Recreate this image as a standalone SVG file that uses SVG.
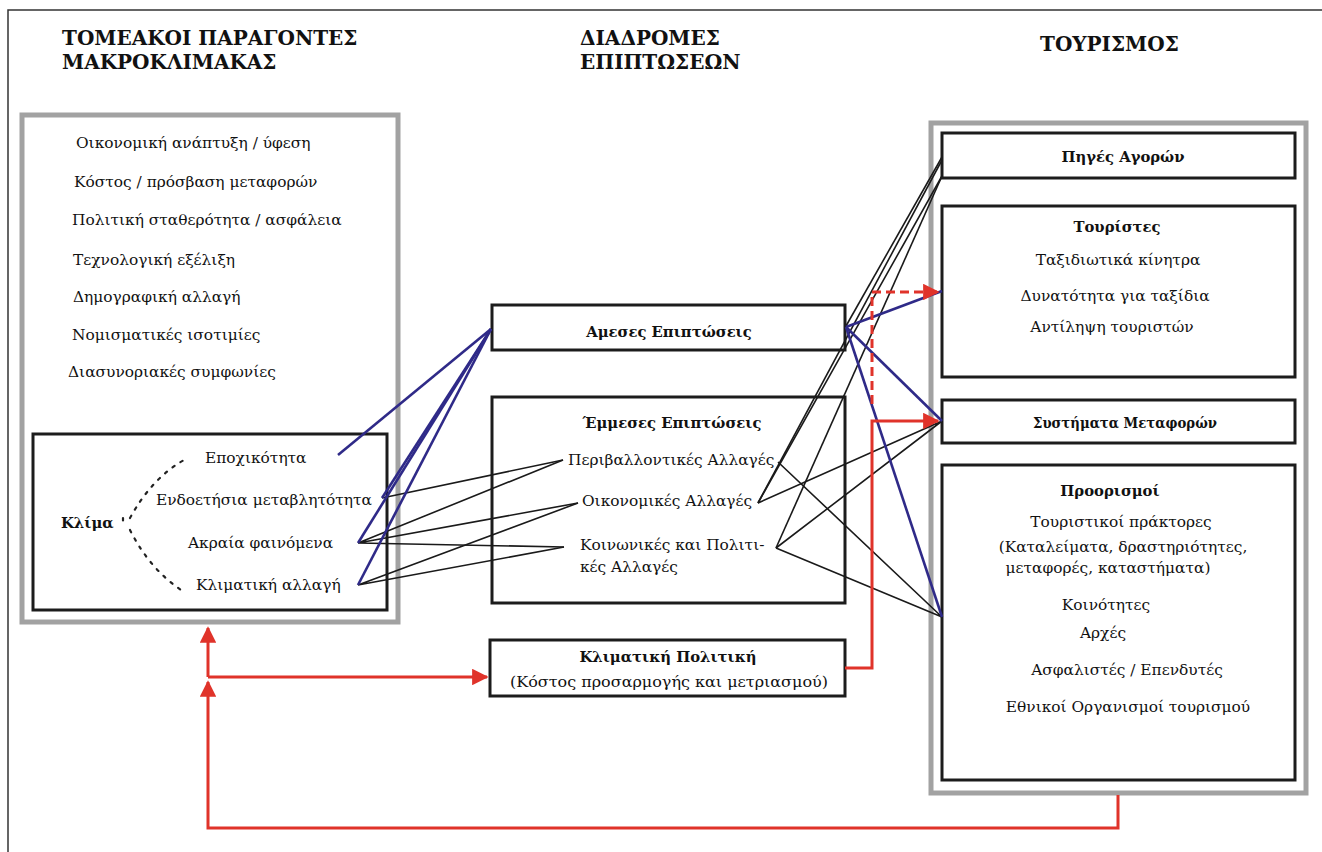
<svg xmlns="http://www.w3.org/2000/svg" width="1322" height="852" viewBox="0 0 1322 852">
  <style>
    text { font-family: "DejaVu Serif", serif; fill: #111; }
    .title { font-size: 20px; font-weight: bold; }
    .item { font-size: 15.4px; }
    .head { font-size: 14.8px; font-weight: bold; }
    .mid { text-anchor: middle; }
    .outer { fill: none; stroke: #a2a2a2; stroke-width: 5; }
    .box { fill: #fff; stroke: #1c1c1c; stroke-width: 3; }
    .blk { stroke: #1a1a1a; stroke-width: 1.6; fill: none; }
    .blu { stroke: #2f2a88; stroke-width: 2.6; fill: none; }
    .red { stroke: #e0332a; stroke-width: 3; fill: none; }
    .dash { stroke-dasharray: 9 5; }
    .dots { stroke: #222; stroke-width: 2.2; fill: none; stroke-dasharray: 2.5 7; stroke-linecap: round; }
  </style>
  <defs>
    <marker id="arr" viewBox="0 0 10 10" refX="9" refY="5" markerWidth="6.5" markerHeight="5.5" markerUnits="strokeWidth" orient="auto">
      <path d="M0,0 L10,5 L0,10 Z" fill="#e0332a"/>
    </marker>
  </defs>

  <rect width="1322" height="852" fill="#fff"/>
  <!-- page frame -->
  <path d="M8,852 V10 H1322" fill="none" stroke="#333" stroke-width="1.5"/>

  <!-- column titles -->
  <g id="titles">
    <text class="title" x="62" y="45">ΤΟΜΕΑΚΟΙ ΠΑΡΑΓΟΝΤΕΣ</text>
    <text class="title" x="62" y="69">ΜΑΚΡΟΚΛΙΜΑΚΑΣ</text>
    <text class="title" x="580" y="45">ΔΙΑΔΡΟΜΕΣ</text>
    <text class="title" x="580" y="69">ΕΠΙΠΤΩΣΕΩΝ</text>
    <text class="title" x="1040" y="51">ΤΟΥΡΙΣΜΟΣ</text>
  </g>

  <!-- macro-scale factors -->
  <g id="macro">
    <rect class="outer" x="22" y="115" width="376" height="507"/>
    <text class="item" x="76" y="148">Οικονομική ανάπτυξη / ύφεση</text>
    <text class="item" x="74" y="187">Κόστος / πρόσβαση μεταφορών</text>
    <text class="item" x="72" y="225">Πολιτική σταθερότητα / ασφάλεια</text>
    <text class="item" x="73" y="265">Τεχνολογική εξέλιξη</text>
    <text class="item" x="73" y="302">Δημογραφική αλλαγή</text>
    <text class="item" x="72" y="340">Νομισματικές ισοτιμίες</text>
    <text class="item" x="68" y="377">Διασυνοριακές συμφωνίες</text>
  </g>

  <!-- climate -->
  <g id="klima">
    <rect class="box" x="33" y="434" width="354" height="176"/>
    <text class="head" x="61" y="528">Κλίμα</text>
    <path class="dots" d="M123,518 L123,527"/>
    <path class="dots" d="M130,518 Q152,478 184,460"/>
    <path class="dots" d="M130,530 Q150,570 184,592"/>
    <text class="item" x="205" y="463">Εποχικότητα</text>
    <text class="item" x="156" y="505">Ενδοετήσια μεταβλητότητα</text>
    <text class="item" x="188" y="548">Ακραία φαινόμενα</text>
    <text class="item" x="196" y="590">Κλιματική αλλαγή</text>
  </g>

  <!-- impact pathways -->
  <g id="amesa">
    <rect class="box" x="492" y="305" width="353" height="45"/>
    <text class="head mid" x="669" y="337">Αμεσες Επιπτώσεις</text>
  </g>
  <g id="emmesa">
    <rect class="box" x="492" y="397" width="353" height="206"/>
    <text class="head mid" x="672" y="428">Έμμεσες Επιπτώσεις</text>
    <text class="item" x="568" y="465">Περιβαλλοντικές Αλλαγές</text>
    <text class="item" x="582" y="506">Οικονομικές Αλλαγές</text>
    <text class="item" x="580" y="550">Κοινωνικές και Πολιτι-</text>
    <text class="item" x="580" y="572">κές Αλλαγές</text>
  </g>
  <g id="politiki">
    <rect class="box" x="490" y="640" width="355" height="56"/>
    <text class="head mid" x="668" y="662">Κλιματική Πολιτική</text>
    <text class="item mid" x="669" y="687" textLength="318" lengthAdjust="spacingAndGlyphs">(Κόστος προσαρμογής και μετριασμού)</text>
  </g>

  <!-- tourism -->
  <g id="tourism">
    <rect class="outer" x="931" y="123" width="375" height="670"/>
  </g>
  <g id="piges">
    <rect class="box" x="942" y="133" width="353" height="45"/>
    <text class="head mid" x="1123" y="162">Πηγές Αγορών</text>
  </g>
  <g id="touristes">
    <rect class="box" x="942" y="206" width="353" height="171"/>
    <text class="head mid" x="1117" y="232">Τουρίστες</text>
    <text class="item mid" x="1118" y="265">Ταξιδιωτικά κίνητρα</text>
    <text class="item mid" x="1115" y="301">Δυνατότητα για ταξίδια</text>
    <text class="item mid" x="1112" y="332">Αντίληψη τουριστών</text>
  </g>
  <g id="metafores">
    <rect class="box" x="942" y="400" width="353" height="43"/>
    <text class="head mid" x="1125" y="428" textLength="184" lengthAdjust="spacingAndGlyphs">Συστήματα Μεταφορών</text>
  </g>
  <g id="proorismoi">
    <rect class="box" x="942" y="465" width="353" height="315"/>
    <text class="head mid" x="1110" y="496">Προορισμοί</text>
    <text class="item mid" x="1121" y="527">Τουριστικοί πράκτορες</text>
    <text class="item mid" x="1123" y="552">(Καταλείματα, δραστηριότητες,</text>
    <text class="item mid" x="1108" y="573">μεταφορές, καταστήματα)</text>
    <text class="item mid" x="1106" y="610">Κοινότητες</text>
    <text class="item mid" x="1103" y="638">Αρχές</text>
    <text class="item mid" x="1127" y="675">Ασφαλιστές / Επενδυτές</text>
    <text class="item mid" x="1128" y="712">Εθνικοί Οργανισμοί τουρισμού</text>
  </g>

  <!-- connectors -->
  <g id="connectors">
    <!-- climate to indirect impacts -->
    <path class="blk" d="M382,498 L563,460"/>
    <path class="blk" d="M358,543 L563,460 M358,543 L578,503 M358,543 L564,547"/>
    <path class="blk" d="M358,585 L578,503 M358,585 L564,547"/>
    <!-- climate to direct impacts -->
    <path class="blu" d="M491,329 L338,455"/>
    <path class="blu" d="M491,329 L382,498"/>
    <path class="blu" d="M491,329 L358,543"/>
    <path class="blu" d="M491,329 L358,585"/>
    <!-- pathways to tourism -->
    <path class="blk" d="M942,157 L846,326"/>
    <path class="blk" d="M942,160 L758,503"/>
    <path class="blk" d="M942,176 L758,503"/>
    <path class="blk" d="M942,176 L776,548"/>
    <path class="blk" d="M758,503 L942,421 M776,548 L942,421"/>
    <path class="blk" d="M778,462 L942,617 M776,548 L942,617"/>
    <path class="blu" d="M846,327 L942,291"/>
    <path class="blu" d="M846,327 L942,421"/>
    <path class="blu" d="M846,327 L942,617"/>
    <!-- climate policy feedback -->
    <path class="red dash" d="M872,404 V292 H938" marker-end="url(#arr)"/>
    <path class="red" d="M845,668 H872 V421 H938" marker-end="url(#arr)"/>
    <path class="red" d="M1118,795 V828 H208 V682" marker-end="url(#arr)"/>
    <path class="red" d="M208,677 V628" marker-end="url(#arr)"/>
    <path class="red" d="M208,677 H487" marker-end="url(#arr)"/>
  </g>
</svg>
